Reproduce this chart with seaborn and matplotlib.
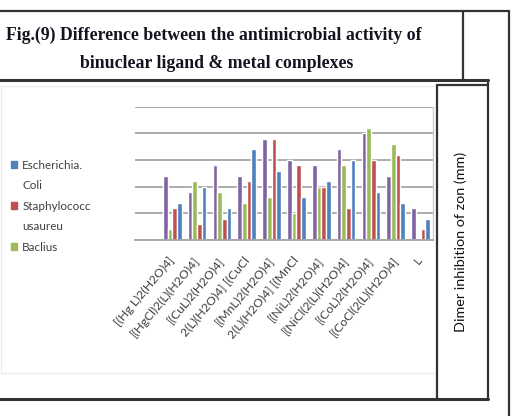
import numpy as np
import pandas as pd
import matplotlib
matplotlib.use("Agg")
import matplotlib.pyplot as plt
from matplotlib.lines import Line2D
from matplotlib.patches import Patch, Rectangle
import seaborn as sns


# ----------------------- Data (inhibition zone, mm)
compounds = [
    "[(Hg L)2(H2O)4]",
    "[(HgCl)2(L)(H2O)4]",
    "[(CuL)2(H2O)4]",
    "2(L)(H2O)4] [(CuCl",
    "[(MnL)2(H2O)4]",
    "2(L)(H2O)4] [(MnCl",
    "[(NiL)2(H2O)4]",
    "[(NiCl(2(L)(H2O)4]",
    "[(CoL)2(H2O)4]",
    "[(CoCl(2(L)(H2O)4]",
    "L",
]

series4 = [12, 9, 14, 12, 19, 15, 14, 17, 20, 12, 6]
baclius = [2, 11, 9, 7, 8, 5, 10, 14, 21, 18, 0]
staph = [6, 3, 4, 11, 19, 14, 10, 6, 15, 16, 2]
ecoli = [7, 10, 6, 17, 13, 8, 11, 15, 9, 7, 4]

organisms = ["Series4", "Baclius", "Staphylococcusaureu", "Escherichia. Coli"]
colors = ["#8064A2", "#9BBB59", "#C0504D", "#4F81BD"]


# ----------------------- Long format for seaborn
rows = []
for name, vals in zip(organisms, [series4, baclius, staph, ecoli]):
    for c, v in zip(compounds, vals):
        rows.append({"Compound": c, "Organism": name, "Zone": v})
df = pd.DataFrame(rows)


# ----------------------- Figure
W, H = 512, 416
fig = plt.figure(figsize=(W / 100, H / 100), dpi=100)
sns.set_style("white")
plt.rcParams["font.family"] = ["Lato", "DejaVu Sans"]


def fx(x):
    return x / W


def fy(y):
    return 1 - y / H


def hline(x0, x1, y, lw=1.6, color="#333333"):
    fig.add_artist(Line2D([fx(x0), fx(x1)], [fy(y), fy(y)],
                          transform=fig.transFigure, lw=lw, color=color))


def vline(x, y0, y1, lw=1.6, color="#333333"):
    fig.add_artist(Line2D([fx(x), fx(x)], [fy(y0), fy(y1)],
                          transform=fig.transFigure, lw=lw, color=color))


# faint chart area border
fig.add_artist(Rectangle((fx(1), fy(373)), fx(436), 287 / H,
                         transform=fig.transFigure, fill=False,
                         edgecolor="#ededed", lw=1))

# table frame
hline(0, 509, 11)
vline(463, 11, 80)
hline(0, 488, 80, lw=2.2)
vline(509, 11, 416)
vline(488, 80, 399)
hline(0, 488, 399, lw=2.2)
vline(437, 85, 399)
hline(437, 488, 85)


# ----------------------- Title
fig.text(fx(214), fy(35), "Fig.(9) Difference between the antimicrobial activity of",
         ha="center", va="center", fontsize=12.8, fontweight="bold",
         family="Liberation Serif", color="#141420")
fig.text(fx(217), fy(63), "binuclear ligand & metal complexes",
         ha="center", va="center", fontsize=12.8, fontweight="bold",
         family="Liberation Serif", color="#141420")


# ----------------------- Bars
ax = fig.add_axes([fx(135), fy(240), (433 - 135) / W, (240 - 106.7) / H])

sns.barplot(
    data=df,
    x="Compound",
    y="Zone",
    hue="Organism",
    order=compounds,
    hue_order=organisms,
    palette=colors,
    saturation=1,
    width=0.75,
    errorbar=None,
    legend=False,
    ax=ax,
)

ax.set_xlim(-1.5, len(compounds) - 0.5)
ax.set_ylim(0, 25)
ax.set_yticks([0, 5, 10, 15, 20, 25])
ax.set_yticklabels([])
ax.yaxis.grid(True, color="#a6a6a6", lw=1.3)
ax.set_axisbelow(True)
ax.set_xlabel("")
ax.set_ylabel("")

for side in ["top", "left"]:
    ax.spines[side].set_visible(False)
ax.spines["bottom"].set_color("#a6a6a6")
ax.spines["bottom"].set_linewidth(1.3)
ax.spines["right"].set_color("#cccccc")
ax.spines["right"].set_linewidth(1.0)

ax.set_xticks(np.arange(-1.5, len(compounds), 1), minor=True)
ax.tick_params(axis="x", which="minor", length=4, width=1, color="#a6a6a6", direction="out")
ax.tick_params(axis="x", which="major", length=0, pad=13)
ax.tick_params(axis="y", length=0)

ax.set_xticks(range(len(compounds)))
ax.set_xticklabels(compounds, rotation=50, ha="right", va="center",
                   rotation_mode="anchor", fontsize=8.8, color="#404040")


# ----------------------- Legend
handles = [
    Patch(color=colors[3]),
    Patch(color="none"),
    Patch(color=colors[2]),
    Patch(color="none"),
    Patch(color=colors[1]),
]
labels = ["Escherichia.", "Coli", "Staphylococc", "usaureu", "Baclius"]
fig.legend(handles, labels, loc="upper left", bbox_to_anchor=(fx(6), fy(155)),
           frameon=False, fontsize=8.4, handlelength=0.55, handleheight=0.55,
           handletextpad=0.45, labelspacing=0.82, borderaxespad=0,
           labelcolor="#404040")


# ----------------------- Axis title in side cell
fig.text(fx(461), fy(242), "Dimer inhibition of zon (mm)", rotation=90,
         ha="center", va="center", fontsize=10.4, color="#111111")

fig.savefig("out.png", dpi=100)
